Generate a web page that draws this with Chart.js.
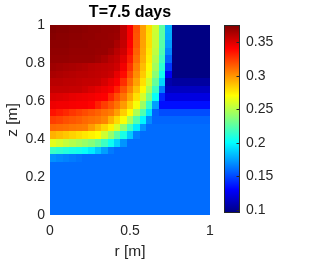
<!DOCTYPE html>
<html>
<head>
<meta charset="utf-8">
<script src="https://cdn.jsdelivr.net/npm/chart.js@4.4.1/dist/chart.umd.min.js"></script>
<style>
  html, body { margin: 0; padding: 0; background: #fff; }
  #wrap { width: 312px; height: 261px; }
</style>
</head>
<body>
<div id="wrap"><canvas id="heat" width="312" height="261"></canvas></div>
<script>
// cell centres (r across, z from top to bottom)
const rCenters = [0.02, 0.06, 0.10, 0.14, 0.18, 0.22, 0.26, 0.30, 0.34, 0.38, 0.42, 0.46, 0.50,
  0.54, 0.58, 0.62, 0.66, 0.70, 0.74, 0.78, 0.82, 0.86, 0.90, 0.94, 0.98];
const zCenters = [0.98, 0.94, 0.90, 0.86, 0.82, 0.78, 0.74, 0.70, 0.66, 0.62, 0.58, 0.54, 0.50,
  0.46, 0.42, 0.38, 0.34, 0.30, 0.26, 0.22, 0.18, 0.14, 0.10, 0.06, 0.02];

// moisture content, one row per z level
const z098 = [.375,.374,.374,.373,.373,.372,.371,.371,.370,.370,.369,.358,.343,.319,.297,.280,.257,.226,.178,.096,.096,.096,.096,.096,.096];
const z094 = [.374,.373,.373,.372,.372,.371,.371,.370,.370,.369,.368,.358,.343,.318,.297,.279,.256,.226,.177,.096,.096,.096,.096,.096,.096];
const z090 = [.372,.372,.372,.371,.371,.371,.370,.370,.369,.369,.364,.357,.341,.317,.296,.279,.255,.224,.173,.096,.096,.096,.096,.096,.096];
const z086 = [.371,.371,.371,.370,.370,.370,.370,.369,.369,.366,.360,.354,.338,.314,.295,.277,.253,.222,.167,.096,.096,.096,.096,.096,.096];
const z082 = [.370,.370,.370,.369,.369,.369,.369,.367,.364,.360,.357,.349,.333,.311,.293,.275,.249,.218,.158,.096,.096,.096,.096,.096,.096];
const z078 = [.367,.366,.365,.364,.363,.362,.360,.359,.358,.357,.354,.344,.327,.306,.289,.272,.245,.212,.145,.096,.096,.096,.096,.096,.096];
const z074 = [.364,.363,.362,.361,.360,.360,.359,.358,.357,.355,.347,.338,.320,.302,.285,.266,.238,.205,.127,.096,.096,.096,.096,.096,.096];
const z070 = [.360,.360,.359,.359,.358,.357,.357,.356,.352,.347,.342,.328,.312,.296,.279,.257,.228,.189,.108,.104,.104,.104,.104,.104,.104];
const z066 = [.357,.357,.357,.356,.356,.354,.351,.348,.345,.342,.332,.318,.304,.288,.272,.246,.216,.164,.113,.113,.113,.113,.113,.113,.113];
const z062 = [.351,.350,.349,.347,.346,.345,.344,.342,.341,.330,.319,.309,.295,.279,.259,.233,.202,.141,.122,.122,.122,.122,.122,.122,.122];
const z058 = [.345,.344,.344,.343,.342,.342,.340,.332,.324,.317,.309,.298,.284,.268,.243,.214,.174,.134,.134,.134,.134,.134,.134,.134,.134];
const z054 = [.336,.333,.330,.326,.323,.320,.317,.314,.310,.307,.297,.284,.271,.248,.222,.193,.157,.151,.151,.151,.151,.151,.151,.151,.151];
const z050 = [.324,.322,.319,.317,.315,.312,.310,.308,.304,.292,.281,.269,.247,.223,.198,.169,.158,.158,.158,.158,.158,.158,.158,.158,.158];
const z046 = [.312,.311,.310,.308,.307,.306,.298,.290,.282,.274,.259,.240,.218,.195,.171,.160,.160,.160,.160,.160,.160,.160,.160,.160,.160];
const z042 = [.292,.289,.286,.283,.280,.277,.274,.271,.257,.242,.225,.207,.186,.165,.160,.160,.160,.160,.160,.160,.160,.160,.160,.160,.160];
const z038 = [.263,.259,.254,.250,.246,.242,.237,.229,.217,.204,.188,.171,.160,.160,.160,.160,.160,.160,.160,.160,.160,.160,.160,.160,.160];
const z034 = [.216,.213,.210,.207,.205,.202,.195,.185,.174,.164,.160,.160,.160,.160,.160,.160,.160,.160,.160,.160,.160,.160,.160,.160,.160];
const z030 = [.170,.168,.166,.164,.162,.160,.160,.160,.160,.160,.160,.160,.160,.160,.160,.160,.160,.160,.160,.160,.160,.160,.160,.160,.160];
const z026 = [.160,.160,.160,.160,.160,.160,.160,.160,.160,.160,.160,.160,.160,.160,.160,.160,.160,.160,.160,.160,.160,.160,.160,.160,.160];
const z022 = [.160,.160,.160,.160,.160,.160,.160,.160,.160,.160,.160,.160,.160,.160,.160,.160,.160,.160,.160,.160,.160,.160,.160,.160,.160];
const z018 = [.160,.160,.160,.160,.160,.160,.160,.160,.160,.160,.160,.160,.160,.160,.160,.160,.160,.160,.160,.160,.160,.160,.160,.160,.160];
const z014 = [.160,.160,.160,.160,.160,.160,.160,.160,.160,.160,.160,.160,.160,.160,.160,.160,.160,.160,.160,.160,.160,.160,.160,.160,.160];
const z010 = [.160,.160,.160,.160,.160,.160,.160,.160,.160,.160,.160,.160,.160,.160,.160,.160,.160,.160,.160,.160,.160,.160,.160,.160,.160];
const z006 = [.160,.160,.160,.160,.160,.160,.160,.160,.160,.160,.160,.160,.160,.160,.160,.160,.160,.160,.160,.160,.160,.160,.160,.160,.160];
const z002 = [.160,.160,.160,.160,.160,.160,.160,.160,.160,.160,.160,.160,.160,.160,.160,.160,.160,.160,.160,.160,.160,.160,.160,.160,.160];
const thetaRows = [z098, z094, z090, z086, z082, z078, z074, z070, z066, z062, z058, z054, z050,
  z046, z042, z038, z034, z030, z026, z022, z018, z014, z010, z006, z002];

const xTicks = [0, 0.5, 1];
const yTicks = [0, 0.2, 0.4, 0.6, 0.8, 1];
const cbarTicks = [0.1, 0.15, 0.2, 0.25, 0.3, 0.35];
const cmin = 0.0951;
const cmax = 0.3758;

const cellW = 0.04;
const cellH = 0.04;
const textColor = "#262626";
const fontFamily = "'Liberation Sans', Arial, sans-serif";

const jet = function (v) {
  const t = Math.min(1, Math.max(0, (v - cmin) / (cmax - cmin)));
  const f = (k) => Math.round(255 * Math.min(1, Math.max(0, 1.5 - Math.abs(4 * t - k))));
  return "rgb(" + f(3) + "," + f(2) + "," + f(1) + ")";
};

const fmt = (v) => String(Math.round(v * 100) / 100);

const cells = [];
zCenters.forEach((z, j) => {
  rCenters.forEach((r, i) => {
    cells.push({ x: r, y: z, v: thetaRows[j][i] });
  });
});

// paints each cell as a rectangle placed by the x/y scales
const heatPlugin = {
  id: "heat",
  beforeDatasetsDraw(chart) {
    const { ctx } = chart;
    const xs = chart.scales.x;
    const ys = chart.scales.y;
    ctx.save();
    chart.data.datasets[0].data.forEach((p) => {
      const x0 = Math.round(xs.getPixelForValue(p.x - cellW / 2));
      const x1 = Math.round(xs.getPixelForValue(p.x + cellW / 2));
      const y0 = Math.round(ys.getPixelForValue(p.y + cellH / 2));
      const y1 = Math.round(ys.getPixelForValue(p.y - cellH / 2));
      ctx.fillStyle = jet(p.v);
      ctx.fillRect(x0, y0, x1 - x0, y1 - y0);
    });
    ctx.restore();
  },
};

// colour bar next to the plot, using the "c" scale for its height
const colorbarPlugin = {
  id: "colorbar",
  afterDraw(chart) {
    const { ctx, chartArea } = chart;
    const cs = chart.scales.c;
    const left = chartArea.right + 14;
    const width = 16;
    const top = Math.round(cs.getPixelForValue(cmax));
    const bottom = Math.round(cs.getPixelForValue(cmin));
    const g = ctx.createLinearGradient(0, bottom, 0, top);
    g.addColorStop(0, "rgb(0,0,128)");
    g.addColorStop(0.125, "rgb(0,0,255)");
    g.addColorStop(0.375, "rgb(0,255,255)");
    g.addColorStop(0.625, "rgb(255,255,0)");
    g.addColorStop(0.875, "rgb(255,0,0)");
    g.addColorStop(1, "rgb(128,0,0)");
    ctx.save();
    ctx.fillStyle = g;
    ctx.fillRect(left, top, width, bottom - top);
    ctx.strokeStyle = textColor;
    ctx.lineWidth = 1;
    ctx.strokeRect(left + 0.5, top + 0.5, width - 1, bottom - top - 1);
    cbarTicks.forEach((v) => {
      const py = Math.round(cs.getPixelForValue(v)) + 0.5;
      ctx.beginPath();
      ctx.moveTo(left + width - 3.5, py);
      ctx.lineTo(left + width - 0.5, py);
      ctx.stroke();
    });
    ctx.restore();
  },
};

const tickFont = { family: fontFamily, size: 14 };
const labelFont = { family: fontFamily, size: 15.5 };

new Chart(document.getElementById("heat"), {
  type: "scatter",
  data: {
    datasets: [
      {
        data: cells,
        pointRadius: 0,
        pointHoverRadius: 0,
      },
    ],
  },
  options: {
    responsive: false,
    animation: false,
    devicePixelRatio: 1,
    events: [],
    layout: { padding: 0 },
    plugins: {
      legend: { display: false },
      tooltip: { enabled: false },
      title: {
        display: true,
        text: "T=7.5 days",
        fullSize: false,
        color: "#000",
        font: { family: fontFamily, size: 16, weight: "bold" },
        padding: { top: 3, bottom: 2.8 },
      },
    },
    scales: {
      x: {
        type: "linear",
        position: "bottom",
        min: 0,
        max: 1,
        grid: { display: false, drawTicks: false },
        border: { display: false },
        afterBuildTicks: (s) => {
          s.ticks = xTicks.map((v) => ({ value: v }));
        },
        afterFit: (s) => {
          s.height = 46;
        },
        ticks: { color: textColor, font: tickFont, padding: 7.5, maxRotation: 0, callback: fmt },
        title: {
          display: true,
          text: "r [m]",
          color: textColor,
          font: labelFont,
          padding: { top: 0, bottom: 0 },
        },
      },
      y: {
        type: "linear",
        position: "left",
        min: 0,
        max: 1,
        grid: { display: false, drawTicks: false },
        border: { display: false },
        afterBuildTicks: (s) => {
          s.ticks = yTicks.map((v) => ({ value: v }));
        },
        afterFit: (s) => {
          s.width = 50;
        },
        ticks: { color: textColor, font: tickFont, padding: 5, callback: fmt },
        title: {
          display: true,
          text: "z [m]",
          color: textColor,
          font: labelFont,
          padding: { top: 3, bottom: 0 },
        },
      },
      c: {
        type: "linear",
        position: "right",
        min: 0.0926,
        max: cmax,
        // tick marks hidden; their length only shifts the labels right of the bar
        grid: { display: false, drawTicks: true, tickLength: 36 },
        border: { display: false },
        afterBuildTicks: (s) => {
          s.ticks = cbarTicks.map((v) => ({ value: v }));
        },
        afterFit: (s) => {
          s.width = 102;
        },
        ticks: { color: textColor, font: tickFont, padding: 0, callback: fmt },
      },
    },
  },
  plugins: [heatPlugin, colorbarPlugin],
});
</script>
</body>
</html>
